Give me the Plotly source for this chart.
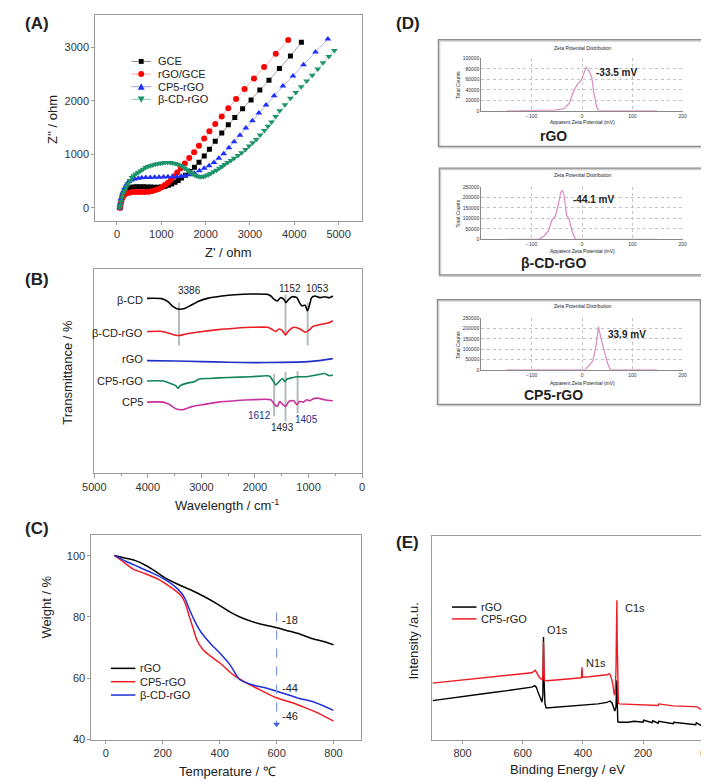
import plotly.graph_objects as go

W, H = 709, 782
def PX(x): return x / W
def PY(y): return 1 - y / H

FONT = "Arial, Liberation Sans, sans-serif"

# ---------------- Panel A (Nyquist) ----------------
gce_x = [70, 80, 95, 118, 148, 185, 232, 290, 360, 440, 520, 600, 680, 760, 840, 920, 1000, 1080, 1160, 1235, 1310, 1380, 1454, 1542, 1645, 1747, 1850, 1968, 2085, 2217, 2364, 2511, 2658, 2834, 3025, 3223, 3429, 3664, 3913, 4160]
gce_y = [0, 60, 130, 205, 270, 320, 355, 375, 388, 393, 393, 392, 390, 388, 386, 385, 388, 400, 420, 445, 475, 510, 555, 610, 680, 760, 850, 969, 1093, 1247, 1401, 1556, 1691, 1852, 2019, 2204, 2389, 2605, 2840, 3100]
rgo_x = [70, 80, 95, 118, 150, 195, 250, 320, 400, 480, 560, 640, 720, 800, 870, 940, 1010, 1080, 1150, 1220, 1290, 1360, 1440, 1530, 1630, 1740, 1850, 1968, 2085, 2217, 2364, 2511, 2687, 2878, 3091, 3319, 3583, 3862]
rgo_y = [0, 55, 120, 180, 225, 258, 278, 290, 295, 296, 296, 297, 300, 312, 330, 350, 385, 425, 470, 525, 590, 660, 740, 830, 930, 1040, 1160, 1296, 1432, 1568, 1710, 1864, 2037, 2222, 2420, 2636, 2883, 3140]
cp5_x = [60, 75, 95, 130, 170, 220, 270, 330, 400, 480, 560, 650, 750, 850, 950, 1050, 1150, 1250, 1350, 1450, 1540, 1637, 1747, 1858, 1968, 2078, 2188, 2298, 2408, 2526, 2643, 2775, 2907, 3054, 3201, 3363, 3546, 3744, 3972, 4207, 4479, 4758]
cp5_y = [0, 80, 170, 280, 370, 440, 490, 520, 540, 552, 560, 565, 568, 570, 572, 575, 578, 580, 582, 588, 598, 617, 648, 691, 741, 784, 846, 926, 1012, 1123, 1235, 1358, 1494, 1630, 1772, 1926, 2099, 2278, 2469, 2679, 2914, 3160]
bcd_x = [60, 70, 85, 110, 140, 169, 205, 242, 290, 338, 380, 426, 480, 536, 590, 646, 700, 756, 810, 866, 920, 976, 1030, 1087, 1140, 1197, 1250, 1307, 1365, 1424, 1475, 1527, 1580, 1630, 1675, 1718, 1762, 1806, 1850, 1894, 1950, 2004, 2060, 2115, 2180, 2247, 2310, 2371, 2430, 2496, 2570, 2643, 2730, 2812, 2900, 2981, 3060, 3142, 3230, 3326, 3405, 3488, 3580, 3671, 3790, 3913, 4035, 4156, 4280, 4405, 4530, 4648, 4780, 4905]
bcd_y = [0, 50, 120, 198, 270, 321, 385, 444, 510, 568, 600, 630, 662, 691, 722, 753, 770, 784, 800, 815, 825, 833, 840, 846, 846, 846, 838, 827, 812, 796, 770, 741, 710, 679, 655, 630, 610, 593, 585, 580, 582, 599, 620, 642, 672, 704, 738, 772, 808, 846, 885, 926, 978, 1031, 1092, 1154, 1215, 1278, 1360, 1444, 1525, 1605, 1710, 1815, 1930, 2049, 2157, 2265, 2373, 2481, 2598, 2716, 2830, 2944]
A_names = ["GCE", "rGO/GCE", "CP5-rGO", "β-CD-rGO"]

# ---------------- Panel B (FTIR) ----------------
ftir_bcd_w = [4015, 3741, 3620, 3529, 3419, 3316, 3194, 3042, 2890, 2616, 2373, 2068, 1764, 1703, 1642, 1582, 1521, 1460, 1423, 1369, 1308, 1217, 1168, 1125, 1064, 1022, 985, 943, 882, 791, 700, 608, 547]
ftir_bcd_t = [176.3, 176, 172.7, 168, 165.3, 166, 169.3, 173.7, 176.3, 178.7, 180, 180.7, 180.3, 178.7, 175.3, 173.7, 177, 175.3, 172, 175.3, 178, 177, 172, 168.7, 169.3, 163.7, 168.7, 177, 178.7, 177, 178, 177, 178.7]
ftir_bcdrgo_w = [4015, 3771, 3620, 3498, 3419, 3285, 2981, 2677, 2373, 2068, 1764, 1691, 1612, 1551, 1490, 1430, 1369, 1277, 1156, 1064, 1003, 912, 821, 730, 638, 547]
ftir_bcdrgo_t = [142.7, 143, 141.3, 139.3, 138.7, 140.3, 142.7, 144.7, 146, 147, 147, 145.3, 142.7, 145.3, 143.7, 139.3, 143.7, 147, 145.3, 142, 143.7, 148, 149.3, 150.3, 151.3, 153.7]
ftir_rgo_w = [4015, 3500, 3000, 2500, 2000, 1500, 1000, 800, 547]
ftir_rgo_t = [113.3, 113.0, 112.3, 111.7, 111.3, 111.5, 112.3, 113.3, 115.3]
ftir_cp5rgo_w = [4015, 3711, 3589, 3480, 3437, 3395, 3285, 3133, 3042, 2859, 2494, 2068, 1733, 1672, 1612, 1551, 1490, 1442, 1399, 1308, 1204, 1034, 851, 700, 608, 547]
ftir_cp5rgo_t = [92.7, 92.7, 90.3, 88, 85.3, 88, 90.3, 92, 94.7, 95.3, 96.3, 97, 97.7, 93.7, 88.7, 92, 95.3, 92, 94.7, 96, 97, 97, 98.7, 100.3, 98, 98.7]
ftir_cp5_w = [4015, 3711, 3589, 3468, 3346, 3164, 2981, 2677, 2373, 2068, 1703, 1642, 1582, 1539, 1478, 1430, 1369, 1277, 1217, 1174, 1095, 1034, 973, 912, 821, 700, 547]
ftir_cp5_t = [71.3, 71.3, 68.7, 64.3, 63.7, 67, 68.7, 71.3, 72.7, 73.7, 73.7, 69.3, 67, 72, 68.7, 67, 72, 72.7, 68.7, 72, 71.3, 73.7, 72.7, 74.7, 75.3, 73.7, 72.7]
ftir_names = ["β-CD", "β-CD-rGO", "rGO", "CP5-rGO", "CP5"]
guide_w = [3419, 1430, 1016, 1642, 1430, 1204]
guide_lo = [128.7, 138.7, 128.7, 57, 52, 60]
guide_hi = [172, 180, 172, 100, 102, 102.7]
peak_labels = ["3386", "1152", "1053", "1612", "1493", "1405"]
peak_lab_w = [3230, 1340, 830, 1916, 1478, 1040]
peak_lab_t = [184, 186, 186, 58, 46, 54]

# ---------------- Panel C (TGA) ----------------
tga_rgo_T = [30, 70, 104, 139, 173, 208, 253, 299, 345, 391, 437, 471, 517, 563, 597, 632, 677, 723, 769, 800]
tga_rgo_w = [100.1, 99.2, 98.4, 96.9, 95, 92.8, 90.7, 88.8, 86.7, 84.3, 81.6, 80, 78.4, 77.3, 76.6, 75.7, 74.6, 73, 71.9, 70.9]
tga_cp5_T = [30, 58, 93, 139, 185, 230, 265, 282, 293, 306, 320, 340, 368, 402, 448, 494, 540, 597, 655, 700, 746, 800]
tga_cp5_w = [100.1, 98.2, 95.8, 94.1, 92.3, 89.6, 86.9, 83.7, 80.2, 76.5, 72.5, 69.5, 67.2, 64.9, 61.1, 58.5, 56.3, 53.7, 52, 50.4, 48.6, 46]
tga_bcd_T = [30, 70, 116, 162, 207, 253, 276, 293, 311, 334, 368, 402, 437, 471, 517, 563, 620, 677, 735, 800]
tga_bcd_w = [100.1, 98.2, 96.3, 94.4, 92.3, 89.1, 86.4, 82.6, 78.9, 75.1, 71.3, 68.1, 64.3, 59.5, 57.8, 56.8, 55.2, 53.5, 52.1, 49.5]
C_names = ["rGO", "CP5-rGO", "β-CD-rGO"]
loss_labels = ["-18", "-44", "-46"]
loss_lab_y = [79, 56.8, 47.7]

# ---------------- Panel D (zeta potential) ----------------
z1_x = [-150, -60, -51.6, -35.4, -25.7, -17.4, -9.7, -1.9, 3.3, 8.4, 12.9, 19.3, 23.8, 29, 32.9, 60, 150]
z1_y = [0, 0, 1300, 4400, 13800, 35800, 50300, 57900, 70500, 83000, 78000, 64200, 32700, 7500, 0, 0, 0]
z2_x = [-150, -85, -75, -67, -60, -53, -47.4, -42.3, -39, -35.7, -30.6, -26, -19.5, -13, 150]
z2_y = [0, 0, 17300, 39300, 91000, 111800, 161800, 225000, 232700, 209000, 114800, 99000, 36200, 0, 0]
z3_x = [-150, 5.2, 11.7, 21.5, 28, 32.6, 37.8, 44.4, 50.9, 56.1, 150]
z3_y = [0, 0, 14400, 43300, 118800, 210000, 150500, 94700, 30300, 0, 0]
zeta_values = ["-33.5 mV", "-44.1 mV", "33.9 mV"]
zeta_samples = ["rGO", "β-CD-rGO", "CP5-rGO"]

# ---------------- Panel E (XPS) ----------------
xps_rgo_be = [900, 850, 800, 750, 700, 650, 600, 570, 560, 555, 548, 540, 536, 533, 531, 529, 526, 522, 500, 450, 400, 350, 320, 310, 303, 298, 294, 290, 288, 287, 286, 284, 280, 250, 230, 200, 198, 170, 168, 150, 148, 100, 98, 50, 25, 23, 10, 0]
xps_rgo_i = [39.3, 41.5, 43.5, 45.5, 47.5, 49.5, 51.5, 53, 54.5, 53, 47, 40, 38, 45, 103.7, 60, 36, 32, 32.5, 33.5, 34.5, 36, 37.5, 39, 37, 31, 28.7, 33, 50, 60, 40, 18, 17.5, 17.5, 18.5, 17.5, 19.5, 17, 19, 16.5, 18.5, 16, 17.5, 15.5, 15, 17, 15, 13]
xps_cp5_be = [900, 850, 800, 750, 700, 650, 600, 570, 558, 552, 545, 538, 534, 532, 531, 530, 528, 520, 480, 440, 405, 403, 401, 380, 340, 320, 311, 305, 300, 296, 293, 290, 288, 287, 286, 284, 282, 279, 250, 200, 150, 148, 100, 50, 20, 10, 0]
xps_cp5_i = [57, 58.5, 60, 61.5, 63, 64.5, 66, 67.5, 70, 67, 63, 61, 60.5, 80, 98.7, 80, 60, 59.5, 60.5, 61.5, 62.5, 73, 63, 63.5, 64.5, 65.5, 66.5, 62, 55, 46, 45, 70, 120, 141, 100, 50, 37, 36, 35.5, 35, 34.5, 36, 34, 33.5, 33, 31, 29.7]
E_names = ["rGO", "CP5-rGO"]
xps_peaks = ["O1s", "N1s", "C1s"]

fig = go.Figure()

# --- A traces
A_style = [("square", "#000000", "#8a8a8a", 5),
           ("circle", "#ff0000", "#f3a0a0", 6),
           ("triangle-up", "#1f2fff", "#9a9ff0", 6),
           ("triangle-down", "#1c9468", "#8fcdb4", 6)]
for name, xs, ys, (sym, mc, lc, ms) in zip(A_names, [gce_x, rgo_x, cp5_x, bcd_x], [gce_y, rgo_y, cp5_y, bcd_y], A_style):
    fig.add_trace(go.Scatter(x=xs, y=ys, mode="lines+markers", name=name, showlegend=False,
                             line=dict(color=lc, width=0.8),
                             marker=dict(symbol=sym, color=mc, size=ms, line=dict(width=0)),
                             xaxis="x", yaxis="y"))

# --- B traces
B_series = [
    (ftir_bcd_w, ftir_bcd_t, "#000000"),
    (ftir_bcdrgo_w, ftir_bcdrgo_t, "#ee1c25"),
    (ftir_rgo_w, ftir_rgo_t, "#1f2fc8"),
    (ftir_cp5rgo_w, ftir_cp5rgo_t, "#118457"),
    (ftir_cp5_w, ftir_cp5_t, "#c8309c"),
]
for i in range(len(guide_w)):
    fig.add_trace(go.Scatter(x=[guide_w[i], guide_w[i]], y=[guide_lo[i], guide_hi[i]], mode="lines",
                             line=dict(color="#b4bcbc", width=2), showlegend=False,
                             xaxis="x2", yaxis="y2", hoverinfo="skip"))
for (ws, ts, c), nm in zip(B_series, ftir_names):
    fig.add_trace(go.Scatter(x=ws, y=ts, mode="lines", name=nm, line=dict(color=c, width=1.6, shape="spline", smoothing=0.6),
                             showlegend=False, xaxis="x2", yaxis="y2"))

# --- C traces
C_colors = ["#000000", "#ee1c25", "#1f2fd8"]
for nm, xs, ys, c in zip(C_names, [tga_rgo_T, tga_cp5_T, tga_bcd_T], [tga_rgo_w, tga_cp5_w, tga_bcd_w], C_colors):
    fig.add_trace(go.Scatter(x=xs, y=ys, mode="lines", name=nm, showlegend=False,
                             line=dict(color=c, width=1.5, shape="spline", smoothing=0.8),
                             xaxis="x3", yaxis="y3"))
fig.add_trace(go.Scatter(x=[600, 600], y=[81.5, 45.5], mode="lines", line=dict(color="#7d97e0", width=1.2, dash="dash"),
                         showlegend=False, xaxis="x3", yaxis="y3", hoverinfo="skip"))
fig.add_trace(go.Scatter(x=[600], y=[45], mode="markers", marker=dict(symbol="triangle-down", size=6, color="#3a5fe0"),
                         showlegend=False, xaxis="x3", yaxis="y3", hoverinfo="skip"))

# --- D traces
for xs, ys, ax in [(z1_x, z1_y, "5"), (z2_x, z2_y, "6"), (z3_x, z3_y, "7")]:
    fig.add_trace(go.Scatter(x=xs, y=ys, mode="lines", line=dict(color="#d98ac0", width=1.2),
                             showlegend=False, xaxis="x" + ax, yaxis="y" + ax))

# --- E traces
E_colors = ["#000000", "#ee1c25"]
for nm, xs, ys, c in zip(E_names, [xps_rgo_be, xps_cp5_be], [xps_rgo_i, xps_cp5_i], E_colors):
    fig.add_trace(go.Scatter(x=xs, y=ys, mode="lines", name=nm, showlegend=False, line=dict(color=c, width=1.4),
                             xaxis="x4", yaxis="y4"))

frame = dict(showline=True, linecolor="#9a9a9a", linewidth=1, mirror=True, zeroline=False, showgrid=False,
             ticks="outside", ticklen=3, tickcolor="#9a9a9a", tickfont=dict(family=FONT, size=11, color="#333"))

def dom_x(a, b): return [PX(a), PX(b)]
def dom_y(top, bot): return [PY(bot), PY(top)]

layout = dict(
    width=W, height=H, margin=dict(l=0, r=0, t=0, b=0), paper_bgcolor="white", plot_bgcolor="white",
    font=dict(family=FONT, color="#222"), showlegend=False,
    xaxis=dict(frame, domain=dom_x(77, 350), range=[-490, 5530], tickvals=[0, 1000, 2000, 3000, 4000, 5000], anchor="y"),
    yaxis=dict(frame, domain=dom_y(4, 212), range=[-240, 3610], tickvals=[0, 1000, 2000, 3000], anchor="x"),
    xaxis2=dict(frame, domain=dom_x(76, 350), range=[5000, 0], tickvals=[5000, 4000, 3000, 2000, 1000, 0], anchor="y2",
                minor=dict(dtick=500, ticks="outside", ticklen=2, tickcolor="#9a9a9a"), ticklen=4),
    yaxis2=dict(frame, domain=dom_y(261, 467), range=[0, 206], showticklabels=False, ticks="", anchor="x2"),
    xaxis3=dict(frame, domain=dom_x(73, 349), range=[-51, 897], tickvals=[0, 200, 400, 600, 800], anchor="y3"),
    yaxis3=dict(frame, domain=dom_y(530, 737), range=[40, 106.8], tickvals=[40, 60, 80, 100], anchor="x3"),
    xaxis4=dict(frame, domain=dom_x(422, 699), range=[900, 0], tickvals=[800, 600, 400, 200, 0], anchor="y4"),
    yaxis4=dict(frame, domain=dom_y(531, 737), range=[0, 206], showticklabels=False, ticks="", anchor="x4"),
)

d_spec = [("5", 48, 101, 100000, 20000), ("6", 178, 231, 250000, 50000), ("7", 311, 363, 250000, 50000)]
for ax, top, bot, ymax, dt in d_spec:
    layout["xaxis" + ax] = dict(domain=dom_x(472, 678), range=[-200, 200], tickvals=[-100, 0, 100, 200], anchor="y" + ax,
                                showline=True, linecolor="#8a8a8a", linewidth=1, showgrid=True, gridcolor="#c4c4c4",
                                griddash="dot", gridwidth=1, zeroline=False, ticks="",
                                tickfont=dict(family=FONT, size=5, color="#333"))
    layout["yaxis" + ax] = dict(domain=dom_y(top, bot), range=[0, ymax], tickvals=list(range(0, ymax + 1, dt)),
                                tickformat="d", anchor="x" + ax, showline=True, linecolor="#8a8a8a", linewidth=1,
                                showgrid=True, gridcolor="#c4c4c4", griddash="dot", gridwidth=1, zeroline=False,
                                ticks="", tickfont=dict(family=FONT, size=5, color="#333"))

anns = []
def ann(text, x, y, size=11, xa="center", ya="middle", angle=0, color="#222", bold=False):
    if bold:
        text = "<b>" + text + "</b>"
    anns.append(dict(text=text, x=PX(x), y=PY(y), xref="paper", yref="paper", showarrow=False,
                     xanchor=xa, yanchor=ya, textangle=angle, font=dict(family=FONT, size=size, color=color)))

shapes = []
def sh_line(x0, y0, x1, y1, color, width=1.5):
    shapes.append(dict(type="line", xref="paper", yref="paper", x0=PX(x0), y0=PY(y0), x1=PX(x1), y1=PY(y1),
                       line=dict(color=color, width=width)))

def sh_marker(sym, cx, cy, color, s):
    h = s / 2
    if sym == "square":
        shapes.append(dict(type="rect", xref="paper", yref="paper", x0=PX(cx - h), x1=PX(cx + h), y0=PY(cy + h), y1=PY(cy - h),
                           fillcolor=color, line=dict(width=0)))
    elif sym == "circle":
        shapes.append(dict(type="circle", xref="paper", yref="paper", x0=PX(cx - h), x1=PX(cx + h), y0=PY(cy + h), y1=PY(cy - h),
                           fillcolor=color, line=dict(width=0)))
    else:
        if sym == "triangle-up":
            pts = [(cx - h - 0.5, cy + h), (cx + h + 0.5, cy + h), (cx, cy - h - 0.5)]
        else:
            pts = [(cx - h - 0.5, cy - h), (cx + h + 0.5, cy - h), (cx, cy + h + 0.5)]
        path = "M " + " L ".join("%f,%f" % (PX(a), PY(b)) for a, b in pts) + " Z"
        shapes.append(dict(type="path", xref="paper", yref="paper", path=path, fillcolor=color, line=dict(width=0)))

# legend A (manual)
for i, (nm, (sym, mc, lc, ms)) in enumerate(zip(A_names, A_style)):
    yy = 51 + i * 12.8
    sh_line(114, yy, 134, yy, lc, 1)
    sh_marker(sym, 124, yy, mc, ms)
    ann(nm, 139, yy, 11, xa="left")

# legend C
for i, (nm, c) in enumerate(zip(C_names, C_colors)):
    yy = 665 + i * 13.5
    sh_line(93, yy, 118, yy, c, 1.5)
    ann(nm, 121, yy, 11, xa="left")

# legend E
for i, (nm, c) in enumerate(zip(E_names, E_colors)):
    yy = 603 + i * 12
    sh_line(442, yy, 467, yy, c, 1.5)
    ann(nm, 470, yy, 11, xa="left")

# panel letters
ann("(A)", 3, 13, 17, xa="left", bold=True)
ann("(B)", 3, 272, 17, xa="left", bold=True)
ann("(C)", 3, 524, 17, xa="left", bold=True)
ann("(D)", 383, 13, 17, xa="left", bold=True)
ann("(E)", 383, 538, 17, xa="left", bold=True)

# axis titles
ann("Z' / ohm", 213, 244, 13)
ann("Z'' / ohm", 33, 110, 13, angle=-90)
ann("Wavelength / cm<sup>-1</sup>", 212, 500, 13)
ann("Transmittance / %", 49, 365, 13, angle=-90)
ann("Temperature / ℃", 212, 769, 13)
ann("Weight / %", 27, 603, 13, angle=-90)
ann("Binding Energy / eV", 560, 767, 13)
ann("Intensity /a.u.", 403, 637, 13, angle=-90)

# FTIR curve labels
for nm, yy in zip(ftir_names, [292, 326, 352, 374, 396]):
    ann(nm, 128, yy, 11, xa="right")

# D annotations
for ptop, cnt, app in [(37, 75, 112), (166, 205, 242.5), (298, 338, 376)]:
    ann("Zeta Potential Distribution", 575, ptop, 5)
    ann("Total Counts", 448, cnt, 5, angle=-90)
    ann("Apparent Zeta Potential (mV)", 575, app, 5)
for nm, yy in zip(zeta_samples, [126, 255, 388]):
    ann(nm, 546, yy, 14, bold=True)

# E peak labels
for nm, (xx, yy) in zip(xps_peaks, [(550, 626), (589, 660), (629, 604)]):
    ann(nm, xx, yy, 11)

for t, xv, yv, ax in zip(zeta_values, [23, -21, 47], [73600, 190000, 173000], ["5", "6", "7"]):
    anns.append(dict(text="<b>" + t + "</b>", x=xv, y=yv, xref="x" + ax, yref="y" + ax, showarrow=False,
                     xanchor="left", yanchor="middle", font=dict(family=FONT, size=10, color="#222")))

lab_colors = ["#222", "#222", "#222", "#1f2f8a", "#222", "#1f2f8a"]
for t, wv, tv, c in zip(peak_labels, peak_lab_w, peak_lab_t, lab_colors):
    anns.append(dict(text=t, x=wv, y=tv, xref="x2", yref="y2", showarrow=False, xanchor="center", yanchor="middle",
                     font=dict(family=FONT, size=10, color=c)))

for t, yv in zip(loss_labels, loss_lab_y):
    anns.append(dict(text=t, x=612, y=yv, xref="x3", yref="y3", showarrow=False, xanchor="left", yanchor="middle",
                     font=dict(family=FONT, size=11, color="#222")))

layout["annotations"] = anns

# D boxes
for x0, y0, x1, y1 in [(428, 29, 698, 137), (429, 159, 698, 267), (427, 292, 696, 398)]:
    shapes.append(dict(type="rect", xref="paper", yref="paper", x0=PX(x0 + 1), y0=PY(y1 + 1), x1=PX(x1 + 1), y1=PY(y0 + 1),
                       line=dict(color="#d0d0d0", width=2)))
    shapes.append(dict(type="rect", xref="paper", yref="paper", x0=PX(x0), y0=PY(y1), x1=PX(x1), y1=PY(y0),
                       line=dict(color="#8c8c8c", width=1.2)))
layout["shapes"] = shapes

fig.update_layout(**layout)
fig.write_html("out.html")
